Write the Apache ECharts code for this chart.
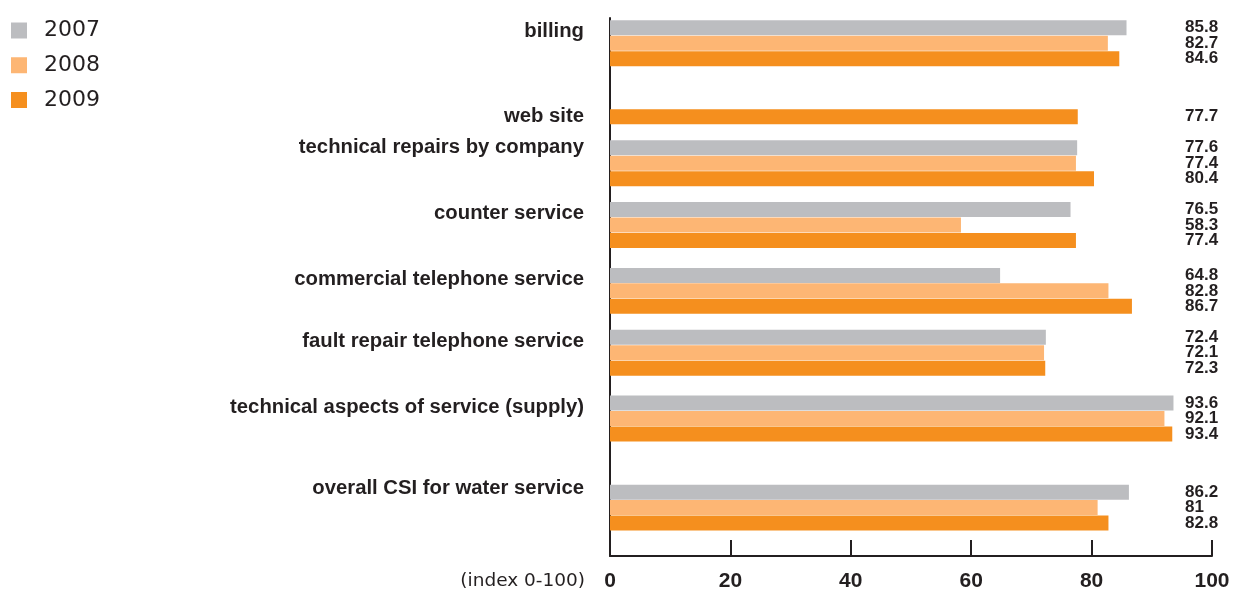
<!DOCTYPE html>
<html>
<head>
<meta charset="utf-8">
<script src="https://cdn.jsdelivr.net/npm/echarts@6/dist/echarts.min.js"></script>
<style>
  html, body { margin: 0; padding: 0; background: #fff; }
  #chart { width: 1234px; height: 594px; }
</style>
</head>
<body>
<div id="chart"></div>
<script>
// Customer satisfaction index by service area (index 0-100)
const years = ['2007', '2008', '2009'];
const categories = [
  'billing',
  'web site',
  'technical repairs by company',
  'counter service',
  'commercial telephone service',
  'fault repair telephone service',
  'technical aspects of service (supply)',
  'overall CSI for water service'
];
const values2007 = [85.8, null, 77.6, 76.5, 64.8, 72.4, 93.6, 86.2];
const values2008 = [82.7, null, 77.4, 58.3, 82.8, 72.1, 92.1, 81];
const values2009 = [84.6, 77.7, 80.4, 77.4, 86.7, 72.3, 93.4, 82.8];
const xTickValues = [0, 20, 40, 60, 80, 100];

const colors = ['#bcbdc0', '#fdb674', '#f58f1e'];
const textColor = '#231f20';

// The vertical axis is split into thin rows; each bar sits on one row,
// bars of a group are ROW_STEP rows apart.
const ROW_COUNT = 139;
const ROW_STEP = 4;
const groupRow = [2, 17, 33, 49, 66, 82, 99, 122];
const labelRow = [3, 25, 33, 50, 67, 83, 100, 121];

const seriesValues = [values2007, values2008, values2009];
const rows = Array.from({ length: ROW_COUNT }, (_, i) => String(i));
const leftLabels = new Array(ROW_COUNT).fill('');
const rightLabels = new Array(ROW_COUNT).fill('');
categories.forEach((name, i) => { leftLabels[labelRow[i]] = name; });

const seriesData = seriesValues.map((vals, y) => {
  const arr = new Array(ROW_COUNT).fill(null);
  vals.forEach((v, i) => {
    if (v == null) return;
    const r = groupRow[i] + y * ROW_STEP;
    arr[r] = v;
    rightLabels[r] = String(v);
  });
  return arr;
});

const chart = echarts.init(document.getElementById('chart'), null, { renderer: 'canvas' });

chart.setOption({
  animation: false,
  backgroundColor: '#ffffff',
  title: {
    text: '(index 0-100)',
    right: 649,
    top: 572,
    padding: 0,
    textStyle: {
      fontFamily: 'DejaVu Sans',
      fontSize: 18.5,
      fontWeight: 'normal',
      color: textColor
    }
  },
  legend: {
    orient: 'vertical',
    left: 11,
    top: 19.5,
    padding: 0,
    icon: 'rect',
    itemWidth: 16,
    itemHeight: 16,
    itemGap: 12.75,
    data: years,
    textStyle: {
      fontFamily: 'DejaVu Sans',
      fontSize: 22,
      color: textColor,
      padding: [0, 0, 0, 12]
    }
  },
  grid: { left: 610, right: 22, top: 18, bottom: 38, containLabel: false },
  xAxis: {
    type: 'value',
    min: xTickValues[0],
    max: xTickValues[xTickValues.length - 1],
    interval: xTickValues[1] - xTickValues[0],
    axisLine: { show: true, lineStyle: { color: textColor, width: 2 } },
    axisTick: { show: true, inside: true, length: 16, lineStyle: { color: textColor, width: 2 } },
    splitLine: { show: false },
    axisLabel: {
      margin: 15,
      fontFamily: 'Liberation Sans',
      fontSize: 21,
      fontWeight: 'bold',
      color: textColor
    }
  },
  yAxis: [
    {
      type: 'category',
      data: rows,
      inverse: true,
      position: 'left',
      axisLine: { show: true, lineStyle: { color: textColor, width: 2 } },
      axisTick: { show: false },
      splitLine: { show: false },
      axisLabel: {
        interval: 0,
        margin: 26,
        fontFamily: 'Liberation Sans',
        fontSize: 20.3,
        fontWeight: 'bold',
        color: textColor,
        formatter: (v, i) => leftLabels[i]
      }
    },
    {
      type: 'category',
      data: rows,
      inverse: true,
      position: 'right',
      axisLine: { show: false },
      axisTick: { show: false },
      splitLine: { show: false },
      axisLabel: {
        interval: 0,
        margin: -27,
        align: 'left',
        fontFamily: 'Liberation Sans',
        fontSize: 17,
        fontWeight: 'bold',
        color: textColor,
        formatter: (v, i) => rightLabels[i]
      }
    }
  ],
  series: years.map((yr, y) => ({
    name: yr,
    type: 'bar',
    yAxisIndex: 0,
    barWidth: 15,
    barGap: '-100%',
    itemStyle: { color: colors[y] },
    data: seriesData[y]
  }))
});
</script>
</body>
</html>
